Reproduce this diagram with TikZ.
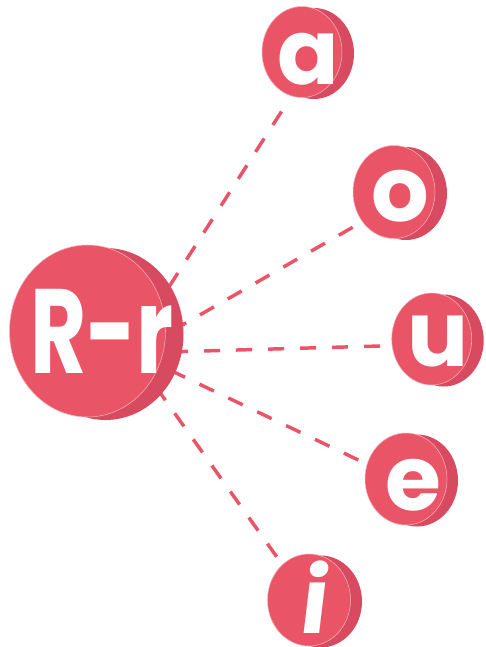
\documentclass[tikz,border=0pt]{standalone}
\usepackage{fontspec}
\setmainfont{Poppins}
\newfontfamily\popnar[FakeStretch=0.72]{Poppins}
\definecolor{coinface}{HTML}{E95566}
\definecolor{coinback}{HTML}{D84A5F}
\definecolor{coinrim}{HTML}{F5B3BB}
\begin{document}
\begin{tikzpicture}[x=0.75pt,y=-0.75pt,
  link/.style={draw=coinface, line width=2.6pt, dash pattern=on 12pt off 12pt},
  back/.style={fill=coinback},
  face/.style={fill=coinface, draw=coinrim, line width=0.4pt},
  letter/.style={text=white, inner sep=0pt, font=\bfseries\fontsize{68}{68}\selectfont},
  bigletter/.style={text=white, inner sep=0pt, font=\popnar\bfseries\fontsize{90}{90}\selectfont}]
\useasboundingbox (0,0) rectangle (486,647);
% connector ends
\coordinate (ea) at (281.5,111.5);
\coordinate (ha) at (140,332);
\coordinate (eo) at (352.7,227.3);
\coordinate (ho) at (130,355);
\coordinate (eu) at (380,346);
\coordinate (hu) at (130,353);
\coordinate (ee) at (358.3,460);
\coordinate (he) at (130,351);
\coordinate (ei) at (276.7,556.7);
\coordinate (hi) at (135,357.5);
\draw[link] (ea) -- (ha);
\draw[link] (eo) -- (ho);
\draw[link] (eu) -- (hu);
\draw[link] (ee) -- (he);
\draw[link] (ei) -- (hi);
% big coin
\fill[back] (105.5,334) ellipse [x radius=78, y radius=86];
\filldraw[face] (87.5,331) ellipse [x radius=78, y radius=86];
\node[bigletter] (R) at (102,331) {R-r};
% a
\fill[back] (314,53.5) ellipse [x radius=40, y radius=45.5];
\filldraw[face] (302,52) ellipse [x radius=40, y radius=45.5];
\node[letter] (a) at (308.3,59.6) {a};
% o
\fill[back] (406,193.5) ellipse [x radius=41, y radius=46.5];
\filldraw[face] (394,192) ellipse [x radius=41, y radius=46.5];
\node[letter] (o) at (400,196) {o};
% u
\fill[back] (443.7,340.5) ellipse [x radius=40, y radius=46];
\filldraw[face] (431.7,339) ellipse [x radius=40, y radius=46];
\node[letter] (u) at (438.3,341.7) {u};
% e
\fill[back] (417,480.5) ellipse [x radius=41, y radius=46];
\filldraw[face] (406,479) ellipse [x radius=41, y radius=46];
\node[letter] (e) at (413,485) {e};
% i
\fill[back] (320.5,601.5) ellipse [x radius=41.5, y radius=46];
\filldraw[face] (309,600) ellipse [x radius=41.5, y radius=46];
\node[letter, xslant=0.12, transform shape] (i) at (316,597.5) {i};
\end{tikzpicture}
\end{document}
